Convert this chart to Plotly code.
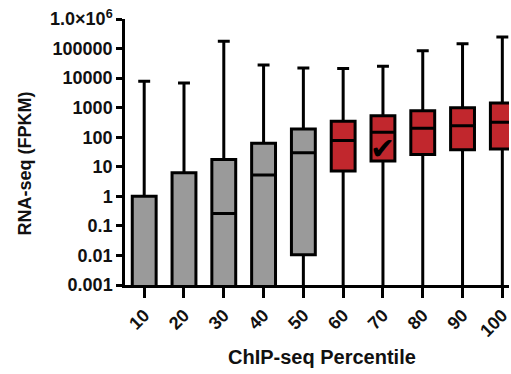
import plotly.graph_objects as go

categories = ["10", "20", "30", "40", "50", "60", "70", "80", "90", "100"]
upper = [7800, 6800, 175000, 27800, 22000, 21000, 25000, 85000, 146000, 246000]
q3 = [1.0, 6.3, 17.5, 62, 190, 345, 535, 790, 1000, 1440]
median = [1e-5, 1e-5, 0.26, 5.3, 30, 78, 146, 200, 246, 318]
q1 = [1e-5, 1e-5, 1e-5, 1e-5, 0.0105, 7.2, 15.8, 26, 38, 40]
lower = [1e-5] * 10
groups = ["gray"] * 5 + ["red"] * 5

colors = {"gray": "#9a9a9a", "red": "#c1272d"}
ytickvals = [1e-3, 1e-2, 1e-1, 1, 10, 100, 1000, 10000, 100000, 1e6]
yticktext = ["0.001", "0.01", "0.1", "1", "10", "100", "1000", "10000", "100000", "1.0×10<sup>6</sup>"]

fig = go.Figure()
for g in ["gray", "red"]:
    idx = [i for i, gg in enumerate(groups) if gg == g]
    fig.add_trace(go.Box(
        x=[i for i in idx],
        q1=[q1[i] for i in idx],
        median=[median[i] for i in idx],
        q3=[q3[i] for i in idx],
        lowerfence=[lower[i] for i in idx],
        upperfence=[upper[i] for i in idx],
        fillcolor=colors[g],
        line=dict(color="black", width=3),
        width=0.6,
        whiskerwidth=0.5,
        boxpoints=False,
        showlegend=False,
    ))

fig.add_annotation(x=6, y=1.62, xref="x", yref="y", text="✔", showarrow=False,
                   font=dict(family="DejaVu Sans", size=30, color="black"))

fig.add_annotation(x=0.513, y=-0.2707, xref="paper", yref="paper", text="<b>ChIP-seq Percentile</b>",
                   showarrow=False, xanchor="center", yanchor="middle",
                   font=dict(family="Liberation Sans, Arial", size=20, color="#111111"))
fig.add_annotation(x=-0.2617, y=0.455, xref="paper", yref="paper", text="<b>RNA-seq (FPKM)</b>",
                   showarrow=False, xanchor="center", yanchor="middle", textangle=-90,
                   font=dict(family="Liberation Sans, Arial", size=18, color="#111111"))

fig.update_layout(
    width=511, height=374,
    margin=dict(l=125, r=0, t=19, b=89),
    paper_bgcolor="white", plot_bgcolor="white",
    boxmode="overlay",
    font=dict(family="Liberation Sans, Arial", color="#111111"),
)
fig.update_xaxes(
    range=[-0.4825, 9.1675],
    tickvals=list(range(len(categories))),
    ticktext=["<b>%s</b>" % c for c in categories],
    tickangle=-45,
    tickfont=dict(size=18, color="#111111"),
    ticklabeloverflow="allow",
    ticks="outside", ticklen=10, tickwidth=2.5, tickcolor="black",
    showline=True, linecolor="black", linewidth=2.5,
    showgrid=False, zeroline=False,
)
fig.update_yaxes(
    type="log", range=[-3, 6],
    tickvals=ytickvals,
    ticktext=["<b>%s</b>" % t for t in yticktext],
    tickfont=dict(size=18, color="#111111"),
    ticks="outside", ticklen=6, tickwidth=2.5, tickcolor="black",
    showline=True, linecolor="black", linewidth=2.5,
    showgrid=False, zeroline=False,
)

fig.write_html("out.html")
